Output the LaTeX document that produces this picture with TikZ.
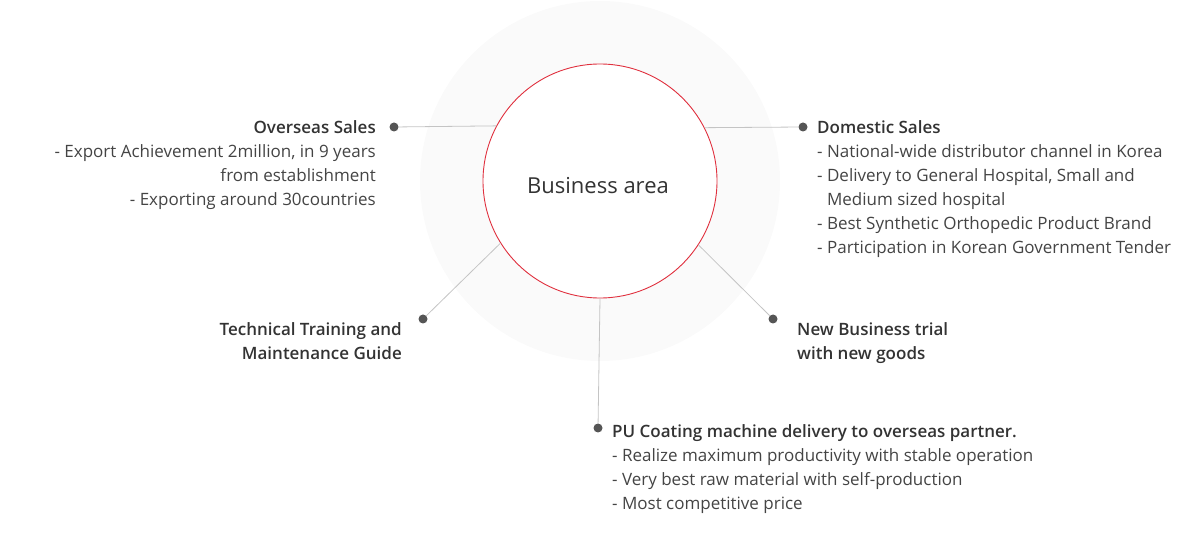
\documentclass[tikz,border=0pt]{standalone}
\usepackage{fontspec}
\setmainfont{Open Sans}[BoldFont={Open Sans Semibold}]
\usetikzlibrary{positioning}
\definecolor{ringred}{HTML}{E0303E}
\definecolor{discgray}{HTML}{FAFAFA}
\definecolor{linkgray}{HTML}{C4C4C4}
\definecolor{dotgray}{HTML}{555555}
\definecolor{headgray}{HTML}{333333}
\definecolor{bodygray}{HTML}{444444}
\newcommand{\hd}[1]{{\bfseries\color{headgray}#1}}

\begin{document}
\begin{tikzpicture}[x=1pt,y=-1pt,
        dot/.style={circle,fill=dotgray,inner sep=0pt,minimum size=9pt},
        link/.style={draw=linkgray,line width=0.8pt},
        txt/.style={inner sep=0pt,text=bodygray,font=\fontsize{17}{24}\selectfont}]
        \useasboundingbox (0,0) rectangle (1200,534);
        \fill[discgray] (600,181) circle (180pt);
        \node[circle,draw=ringred,line width=0.9pt,fill=white,minimum size=234pt,inner sep=0pt,
              text=headgray,font=\fontsize{22}{26}\selectfont] (biz) at (600,181) {};
        \node[text=headgray,font=\fontsize{22}{26}\selectfont] (biztext) at (598,186) {Business area};
        % dots round the ring
        \node[dot] (ovs) at (394,127) {};
        \node[dot] (dom) at (803,127) {};
        \node[dot] (tec) at (423,319) {};
        \node[dot] (nbt) at (773,319) {};
        \node[dot] (puc) at (598,428) {};
        \draw[link] (ovs) -- (biz.152.5);
        \draw[link] (dom) -- (biz.27.5);
        \draw[link] (tec) -- (biz.212);
        \draw[link] (nbt) -- (biz.327);
        \draw[link] (puc) -- (biz.270);
        % texts
        \node[txt,align=right,anchor=north east] (ovstext) at (376,120)
            {\hd{Overseas Sales}\\- Export Achievement 2million, in 9 years\\from establishment\\- Exporting around 30countries};
        \node[txt,align=left,anchor=north west] (domtext) at (817,120)
            {\hd{Domestic Sales}\\- National-wide distributor channel in Korea\\- Delivery to General Hospital, Small and\\\phantom{- }Medium sized hospital\\- Best Synthetic Orthopedic Product Brand\\- Participation in Korean Government Tender};
        \node[txt,align=right,anchor=north east] (tectext) at (402,322)
            {\hd{Technical Training and}\\\hd{Maintenance Guide}};
        \node[txt,align=left,anchor=north west] (nbttext) at (797,322)
            {\hd{New Business trial}\\\hd{with new goods}};
        \node[txt,align=left,anchor=north west] (puctext) at (612,424)
            {\hd{PU Coating machine delivery to overseas partner.}\\- Realize maximum productivity with stable operation\\- Very best raw material with self-production\\- Most competitive price};
    \end{tikzpicture}
\end{document}
